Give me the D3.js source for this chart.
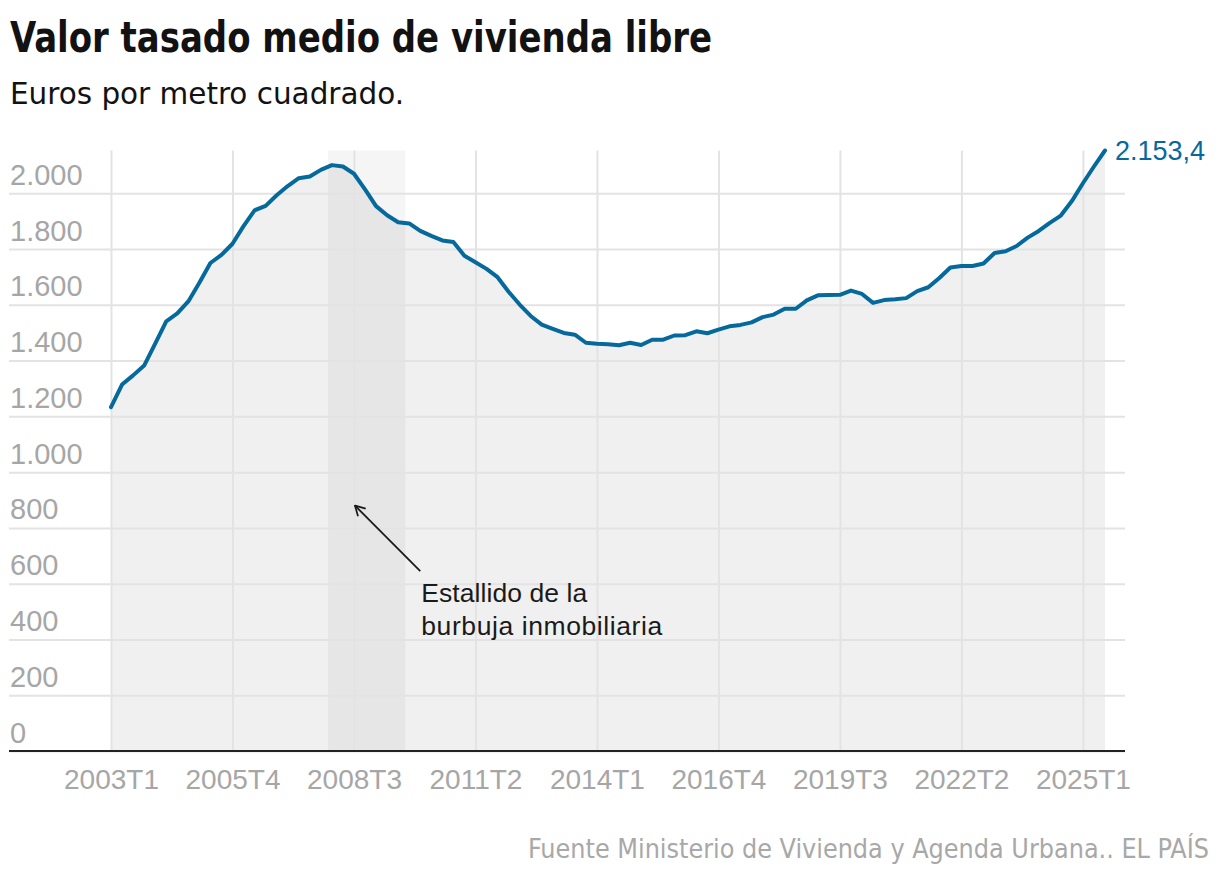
<!DOCTYPE html>
<html>
<head>
<meta charset="utf-8">
<script src="https://cdn.jsdelivr.net/npm/d3@7"></script>
<style>
  body { margin: 0; background: #fff; }
  text { font-family: "Liberation Sans", Arial, sans-serif; }
</style>
</head>
<body>
<svg id="chart"></svg>
<script>
// quarters (T1..T4) from 2003T1 to 2025T3
const quarters = [
  "2003T1","2003T2","2003T3","2003T4","2004T1","2004T2","2004T3","2004T4",
  "2005T1","2005T2","2005T3","2005T4","2006T1","2006T2","2006T3","2006T4",
  "2007T1","2007T2","2007T3","2007T4","2008T1","2008T2","2008T3","2008T4",
  "2009T1","2009T2","2009T3","2009T4","2010T1","2010T2","2010T3","2010T4",
  "2011T1","2011T2","2011T3","2011T4","2012T1","2012T2","2012T3","2012T4",
  "2013T1","2013T2","2013T3","2013T4","2014T1","2014T2","2014T3","2014T4",
  "2015T1","2015T2","2015T3","2015T4","2016T1","2016T2","2016T3","2016T4",
  "2017T1","2017T2","2017T3","2017T4","2018T1","2018T2","2018T3","2018T4",
  "2019T1","2019T2","2019T3","2019T4","2020T1","2020T2","2020T3","2020T4",
  "2021T1","2021T2","2021T3","2021T4","2022T1","2022T2","2022T3","2022T4",
  "2023T1","2023T2","2023T3","2023T4","2024T1","2024T2","2024T3","2024T4",
  "2025T1","2025T2","2025T3"
];

// euros per m2
const values = [
  1233, 1314, 1347, 1382, 1461, 1541, 1569, 1612,
  1679, 1750, 1779, 1819, 1882, 1939, 1955, 1993,
  2026, 2054, 2060, 2084, 2101, 2096, 2070, 2014,
  1954, 1921, 1896, 1892, 1865, 1847, 1831, 1825,
  1776, 1753, 1729, 1699, 1647, 1601, 1560, 1529,
  1514, 1499, 1493, 1464, 1460, 1459, 1455, 1464,
  1456, 1475, 1475, 1490, 1491, 1505, 1498, 1511,
  1523, 1528, 1537, 1556, 1565, 1586, 1586, 1616,
  1634, 1635, 1636, 1651, 1639, 1607, 1617, 1620,
  1624, 1649, 1663, 1696, 1734, 1739, 1739, 1748,
  1786, 1792, 1811, 1841, 1865, 1894, 1920, 1972,
  2036, 2096, 2153.4
];

const xTickLabels = ["2003T1","2005T4","2008T3","2011T2","2014T1","2016T4","2019T3","2022T2","2025T1"];
const yTickValues = [0, 200, 400, 600, 800, 1000, 1200, 1400, 1600, 1800, 2000];

// shaded period: bubble burst
const bandQuarters = ["2008T1", "2009T4"];
const annotationLines = ["Estallido de la", "burbuja inmobiliaria"];
const annotationTarget = { quarter: "2008T3", value: 880 };
const annotationSource = { quarter: "2010T1", value: 645 };

const title = "Valor tasado medio de vivienda libre";
const subtitle = "Euros por metro cuadrado.";
const source = "Fuente Ministerio de Vivienda y Agenda Urbana.. EL PAÍS";

const es = d3.formatLocale({ decimal: ",", thousands: ".", grouping: [3], currency: ["", " €"] });
const fmtTick = es.format(",.0f");
const fmtValue = es.format(",.1f");

const width = 1220;
const height = 878;
const lineColor = "#05699b";
const condensed = "'Liberation Sans Narrow', 'DejaVu Sans Condensed', sans-serif";

const svg = d3.select("#chart")
  .attr("width", width)
  .attr("height", height)
  .attr("viewBox", `0 0 ${width} ${height}`);

const data = quarters.map((q, i) => ({ q, i, v: values[i] }));

// scales
const xScale = d3.scaleLinear()
  .domain([0, quarters.length - 1])
  .range([111, 1105]);
const step = xScale(1) - xScale(0);

const yScale = d3.scaleLinear()
  .domain([0, d3.max(values)])
  .range([751, 150.5]);

const xq = q => xScale(quarters.indexOf(q));

// title / subtitle
svg.append("text")
  .attr("x", 10).attr("y", 52)
  .attr("textLength", 702)
  .attr("lengthAdjust", "spacingAndGlyphs")
  .style("font-family", condensed)
  .style("font-weight", "bold")
  .style("font-size", "42px")
  .style("fill", "#121212")
  .text(title);

svg.append("text")
  .attr("x", 10).attr("y", 104)
  .attr("textLength", 394)
  .attr("lengthAdjust", "spacingAndGlyphs")
  .style("font-family", condensed)
  .style("font-size", "31px")
  .style("fill", "#121212")
  .text(subtitle);

// area under the line
svg.append("path")
  .datum(data)
  .attr("fill", "#f0f0f0")
  .attr("d", d3.area().x(d => xScale(d.i)).y0(yScale(0)).y1(d => yScale(d.v)));

// bubble band
svg.append("rect")
  .attr("x", xq(bandQuarters[0]) - step * 0.35)
  .attr("width", xq(bandQuarters[1]) - xq(bandQuarters[0]))
  .attr("y", yScale.range()[1])
  .attr("height", yScale(0) - yScale.range()[1])
  .attr("fill", "#000")
  .attr("fill-opacity", 0.04);

// horizontal grid
const yAxis = d3.axisLeft(yScale)
  .tickValues(yTickValues)
  .tickSize(-(1125 - 9))
  .tickFormat(fmtTick);

const gy = svg.append("g")
  .attr("id", "y-axis")
  .attr("transform", "translate(9,0)")
  .call(yAxis);
gy.select(".domain").remove();
gy.selectAll(".tick line")
  .attr("stroke", "#e3e3e3")
  .attr("stroke-width", 2);
gy.selectAll(".tick text")
  .attr("x", 1)
  .attr("dy", -9)
  .attr("text-anchor", "start")
  .style("font-size", "29px")
  .style("font-family", "'Liberation Sans', Arial, sans-serif")
  .style("fill", "#a6a6a6");

// vertical grid + labels
const xAxis = d3.axisBottom(xScale)
  .tickValues(xTickLabels.map(l => quarters.indexOf(l)))
  .tickSize(-(yScale(0) - yScale.range()[1]))
  .tickFormat(i => quarters[i]);

const gx = svg.append("g")
  .attr("id", "x-axis")
  .attr("transform", `translate(0,${yScale(0)})`)
  .call(xAxis);
gx.select(".domain").remove();
gx.selectAll(".tick line")
  .attr("stroke", "#e3e3e3")
  .attr("stroke-width", 2);
gx.selectAll(".tick text")
  .attr("y", 38)
  .attr("dy", 0)
  .style("font-size", "28px")
  .style("font-family", "'Liberation Sans', Arial, sans-serif")
  .style("fill", "#a6a6a6");

// baseline
svg.append("line")
  .attr("x1", 9).attr("x2", 1125)
  .attr("y1", yScale(0)).attr("y2", yScale(0))
  .attr("stroke", "#222")
  .attr("stroke-width", 2);

// line
svg.append("path")
  .datum(data)
  .attr("fill", "none")
  .attr("stroke", lineColor)
  .attr("stroke-width", 4)
  .attr("stroke-linejoin", "round")
  .attr("stroke-linecap", "round")
  .attr("d", d3.line().x(d => xScale(d.i)).y(d => yScale(d.v)));

// last value label
const last = data[data.length - 1];
svg.append("text")
  .attr("x", xScale(last.i) + 10)
  .attr("y", yScale(last.v) + 9)
  .style("font-size", "27px")
  .style("font-family", "'Liberation Sans', Arial, sans-serif")
  .style("fill", lineColor)
  .text(fmtValue(last.v));

// annotation arrow
svg.append("defs").append("marker")
  .attr("id", "arrowhead")
  .attr("viewBox", "0 0 12 12")
  .attr("refX", 11).attr("refY", 6)
  .attr("markerWidth", 13).attr("markerHeight", 13)
  .attr("markerUnits", "userSpaceOnUse")
  .attr("orient", "auto")
  .append("path")
  .attr("d", "M2,1 L11,6 L2,11")
  .attr("fill", "none")
  .attr("stroke", "#1a1a1a")
  .attr("stroke-width", 1.6);

svg.append("line")
  .attr("x1", xq(annotationSource.quarter))
  .attr("y1", yScale(annotationSource.value))
  .attr("x2", xq(annotationTarget.quarter) + 1)
  .attr("y2", yScale(annotationTarget.value))
  .attr("stroke", "#1a1a1a")
  .attr("stroke-width", 1.8)
  .attr("marker-end", "url(#arrowhead)");

const ann = svg.append("text")
  .attr("x", xq(annotationSource.quarter) + 1)
  .attr("y", yScale(annotationSource.value) + 31)
  .style("font-size", "26.5px")
  .style("font-family", "'Liberation Sans', Arial, sans-serif")
  .style("fill", "#1a1a1a");
ann.selectAll("tspan")
  .data(annotationLines)
  .enter()
  .append("tspan")
  .attr("x", xq(annotationSource.quarter) + 1)
  .attr("dy", (d, i) => i === 0 ? 0 : 33)
  .attr("textLength", (d, i) => i === 0 ? 166 : 241)
  .attr("lengthAdjust", "spacing")
  .text(d => d);

// source
svg.append("text")
  .attr("x", 1209).attr("y", 858)
  .attr("text-anchor", "end")
  .attr("textLength", 681)
  .attr("lengthAdjust", "spacingAndGlyphs")
  .style("font-size", "26px")
  .style("font-family", condensed)
  .style("fill", "#a8a8a8")
  .text(source);
</script>
</body>
</html>
